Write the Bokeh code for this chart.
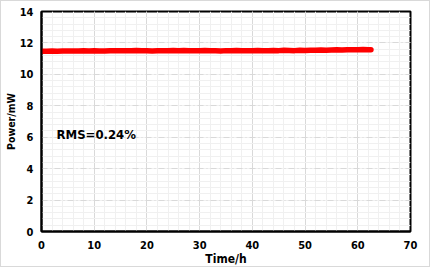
from bokeh.plotting import figure
from bokeh.models import Range1d, FixedTicker, Label
from bokeh.embed import file_html
from bokeh.resources import INLINE

time_h = [0, 1, 2, 3, 4, 5, 6, 7, 8, 9, 10, 11, 12, 13, 14, 15, 16, 17, 18, 19,
          20, 21, 22, 23, 24, 25, 26, 27, 28, 29, 30, 31, 32, 33, 34, 35, 36, 37, 38, 39,
          40, 41, 42, 43, 44, 45, 46, 47, 48, 49, 50, 51, 52, 53, 54, 55, 56, 57, 58, 59,
          60, 61, 62, 62.5]
power_mw = [11.47, 11.47, 11.48, 11.47, 11.48, 11.48, 11.49, 11.48, 11.50, 11.49,
            11.50, 11.49, 11.48, 11.50, 11.51, 11.50, 11.51, 11.50, 11.52, 11.51,
            11.50, 11.49, 11.50, 11.51, 11.50, 11.52, 11.51, 11.52, 11.50, 11.51,
            11.50, 11.52, 11.51, 11.50, 11.49, 11.51, 11.50, 11.52, 11.51, 11.50,
            11.51, 11.52, 11.51, 11.50, 11.52, 11.51, 11.53, 11.52, 11.51, 11.53,
            11.52, 11.54, 11.53, 11.55, 11.54, 11.55, 11.56, 11.55, 11.57, 11.56,
            11.57, 11.58, 11.57, 11.57]
x_ticks = [0, 10, 20, 30, 40, 50, 60, 70]
y_ticks = [0, 2, 4, 6, 8, 10, 12, 14]
x_title = "Time/h"
y_title = "Power/mW"
annotation = "RMS=0.24%"

FONT = "DejaVu Sans Condensed"

p = figure(width=430, height=267, output_backend="svg", toolbar_location=None,
           x_range=Range1d(0, 70), y_range=Range1d(0, 14),
           min_border_left=40, min_border_right=21, min_border_top=10, min_border_bottom=36)
p.styles = {"border": "1px solid #d9d9d9", "box-sizing": "border-box"}

p.line(time_h, power_mw, line_color="#ff0000", line_width=5.5, line_cap="round", line_join="round")

for ax in (p.xaxis[0], p.yaxis[0]):
    ax.axis_line_color = "black"
    ax.axis_line_width = 2
    ax.major_tick_line_color = None
    ax.minor_tick_line_color = None
    ax.major_tick_out = 0
    ax.major_tick_in = 0
    ax.minor_tick_out = 0
    ax.minor_tick_in = 0
    ax.major_label_text_font = FONT
    ax.major_label_text_font_style = "bold"
    ax.major_label_text_font_size = "11px"
    ax.major_label_text_color = "black"
    ax.major_label_standoff = 9
    ax.axis_label_text_font = FONT
    ax.axis_label_text_font_style = "bold"
    ax.axis_label_text_color = "black"

p.yaxis.major_label_standoff = 8
p.xaxis.ticker = FixedTicker(ticks=x_ticks, minor_ticks=list(range(0, 71, 2)))
p.yaxis.ticker = FixedTicker(ticks=y_ticks, minor_ticks=[i * 0.4 for i in range(36)])
p.xaxis.axis_label = x_title
p.yaxis.axis_label = y_title
p.xaxis.axis_label_text_font_size = "12px"
p.yaxis.axis_label_text_font_size = "10.5px"
p.xaxis.axis_label_standoff = 0
p.yaxis.axis_label_standoff = 0

p.xgrid.grid_line_color = "#d9d9d9"
p.xgrid.minor_grid_line_color = "#f0f0f0"
p.ygrid.grid_line_color = "#d9d9d9"
p.ygrid.grid_line_dash = "6 3 1 3"
p.ygrid.minor_grid_line_color = "#f0f0f0"

p.outline_line_color = "black"
p.outline_line_width = 2
p.background_fill_color = "white"
p.border_fill_color = "white"

p.add_layout(Label(x=2.85, y=6.2, text=annotation, text_font=FONT, text_font_style="bold",
                   text_font_size="13px", text_color="black", text_baseline="middle"))

open("out.html", "w").write(file_html(p, INLINE))
